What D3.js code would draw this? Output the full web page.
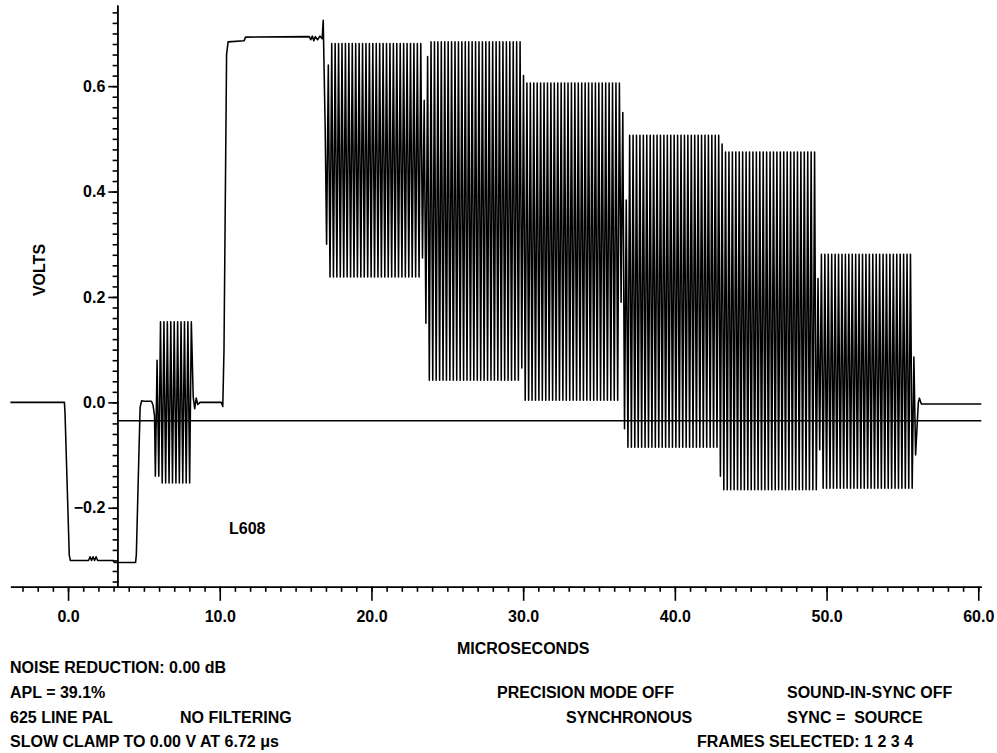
<!DOCTYPE html>
<html>
<head>
<meta charset="utf-8">
<script src="https://cdn.jsdelivr.net/npm/d3@7"></script>
<style>
  body { margin: 0; background: #fff; }
  svg text { font-family: "Liberation Sans", Arial, Helvetica, sans-serif; font-weight: bold; font-size: 16px; fill: #000; }
</style>
</head>
<body>
<div id="container"></div>
<script>
/* CONSTANTS AND GLOBALS */
const width = 997;
const height = 753;

/* DATA */
// axes (microseconds / volts)
const xDomain = [-3.8, 60.2];
const yDomain = [-0.35, 0.754];
const xMajorTicks = [0, 10, 20, 30, 40, 50, 60];
const xMinorTicks = d3.range(-3, 61, 1);
const yMajorTicks = [-0.2, 0, 0.2, 0.4, 0.6];
const yMinorTicks = d3.range(-0.34, 0.75, 0.02);

// plain trace: sync, porches, white bar and end of line
const traceT = [-3.8, -0.24, -0.2, 0.08, 0.15, 1.35, 1.45, 1.55, 1.65, 1.75, 1.85, 1.95, 3.0, 3.05, 4.45,
  4.5, 4.75, 4.85, 5.0, 5.5, 5.6, 5.7,
  8.25, 8.35, 8.45, 8.55, 8.7, 10.1, 10.2, 10.28, 10.45, 10.55, 11.6, 11.7, 15.9, 16.0, 16.1, 16.2, 16.3,
  16.45, 16.6, 16.75, 16.82, 16.95,
  56.05, 56.12, 56.25, 60.2];
const traceV = [0.0, 0.0, -0.02, -0.29, -0.3, -0.3, -0.293, -0.3, -0.293, -0.3, -0.293, -0.3, -0.3, -0.304, -0.304,
  -0.29, -0.01, 0.003, 0.002, 0.002, -0.005, -0.025,
  0.01, -0.012, 0.008, -0.004, 0.0, 0.0, -0.008, 0.1, 0.66, 0.684, 0.686, 0.693, 0.694, 0.688, 0.695, 0.686, 0.694,
  0.688, 0.695, 0.69, 0.725, 0.52,
  0.0, 0.008, -0.003, -0.003];

// chroma: burst, then yellow, cyan, green, magenta, red, blue bars and the steps between them
const chromaStart  = [5.75, 5.99, 17.0, 17.25, 23.3, 23.53, 23.76, 29.8, 30.03, 36.35, 36.58, 36.8, 42.9, 43.13, 49.35, 49.58, 55.75];
const chromaEnd    = [5.99, 8.2, 17.25, 23.3, 23.53, 23.76, 29.8, 30.03, 36.35, 36.58, 36.8, 42.9, 43.13, 49.35, 49.58, 55.75, 55.98];
const chromaTop    = [0.08, 0.153, 0.64, 0.681, 0.573, 0.656, 0.684, 0.62, 0.606, 0.55, 0.384, 0.507, 0.49, 0.475, 0.235, 0.281, 0.086];
const chromaBottom = [-0.14, -0.153, 0.30, 0.238, 0.274, 0.150, 0.042, 0.065, 0.004, 0.19, -0.05, -0.085, -0.14, -0.166, -0.09, -0.163, -0.10];
const subcarrierMHz = 4.43;

const clampLevel = -0.035;

/* SCALES */
const x = d3.scaleLinear().domain(xDomain).range([10.4, 981.3]);
const y = d3.scaleLinear().domain(yDomain).range([586.8, 5]);
const yAxisX = 117.3;

const svg = d3.select("#container")
  .append("svg")
  .attr("width", width)
  .attr("height", height);

/* AXES */
const xMinor = d3.axisBottom(x).tickValues(xMinorTicks).tickSize(5).tickSizeOuter(0).tickFormat("");
const xMajor = d3.axisBottom(x).tickValues(xMajorTicks).tickSize(14).tickSizeOuter(0)
  .tickPadding(10).tickFormat(d3.format(".1f"));

svg.append("g").attr("transform", `translate(0, ${y(yDomain[0])})`).call(xMinor);
svg.append("g").attr("transform", `translate(0, ${y(yDomain[0])})`).call(xMajor);

const yMinor = d3.axisLeft(y).tickValues(yMinorTicks).tickSize(4.7).tickSizeOuter(0).tickFormat("");
const yMajor = d3.axisLeft(y).tickValues(yMajorTicks).tickSize(9).tickSizeOuter(0)
  .tickPadding(3).tickFormat(d3.format(".1f"));

svg.append("g").attr("transform", `translate(${yAxisX}, 0)`).call(yMinor);
svg.append("g").attr("transform", `translate(${yAxisX}, 0)`).call(yMajor);

svg.selectAll(".domain, .tick line").attr("stroke", "#000").attr("stroke-width", 1.6);

/* TRACE */
// the subcarrier swings between the envelope values of each chroma segment
const half = 1 / (2 * subcarrierMHz);
const points = traceT.map((t, i) => [t, traceV[i]]);
chromaStart.forEach((s, i) => {
  for (let k = Math.ceil(s / half); k * half < chromaEnd[i]; k++) {
    points.push([k * half, k % 2 === 0 ? chromaTop[i] : chromaBottom[i]]);
  }
});
points.sort((a, b) => a[0] - b[0]);

const line = d3.line().x(d => x(d[0])).y(d => y(d[1]));

svg.append("path")
  .datum(points)
  .attr("fill", "none")
  .attr("stroke", "#000")
  .attr("stroke-width", 1.55)
  .attr("stroke-linejoin", "round")
  .attr("d", line);

// clamp reference line
svg.append("line")
  .attr("x1", yAxisX).attr("x2", x(xDomain[1]))
  .attr("y1", y(clampLevel)).attr("y2", y(clampLevel))
  .attr("stroke", "#000").attr("stroke-width", 1.6);

/* LABELS */
svg.append("text")
  .attr("text-anchor", "middle")
  .attr("x", x(30))
  .attr("y", 654)
  .text("MICROSECONDS");

svg.append("text")
  .attr("text-anchor", "middle")
  .attr("transform", "translate(45, 270) rotate(-90)")
  .text("VOLTS");

svg.append("text").attr("x", 229).attr("y", 534).text("L608");

// status lines under the chart
svg.append("text").attr("x", 10).attr("y", 673).text("NOISE REDUCTION: 0.00 dB");
svg.append("text").attr("x", 10).attr("y", 698).text("APL = 39.1%");
svg.append("text").attr("x", 497).attr("y", 698).text("PRECISION MODE OFF");
svg.append("text").attr("x", 787).attr("y", 698).text("SOUND-IN-SYNC OFF");
svg.append("text").attr("x", 10).attr("y", 723).text("625 LINE PAL");
svg.append("text").attr("x", 180).attr("y", 723).text("NO FILTERING");
svg.append("text").attr("x", 566).attr("y", 723).text("SYNCHRONOUS");
svg.append("text").attr("x", 787).attr("y", 723).attr("xml:space", "preserve").text("SYNC =  SOURCE");
svg.append("text").attr("x", 10).attr("y", 747).text("SLOW CLAMP TO 0.00 V AT 6.72 μs");
svg.append("text").attr("x", 697).attr("y", 747).text("FRAMES SELECTED: 1 2 3 4");
</script>
</body>
</html>
